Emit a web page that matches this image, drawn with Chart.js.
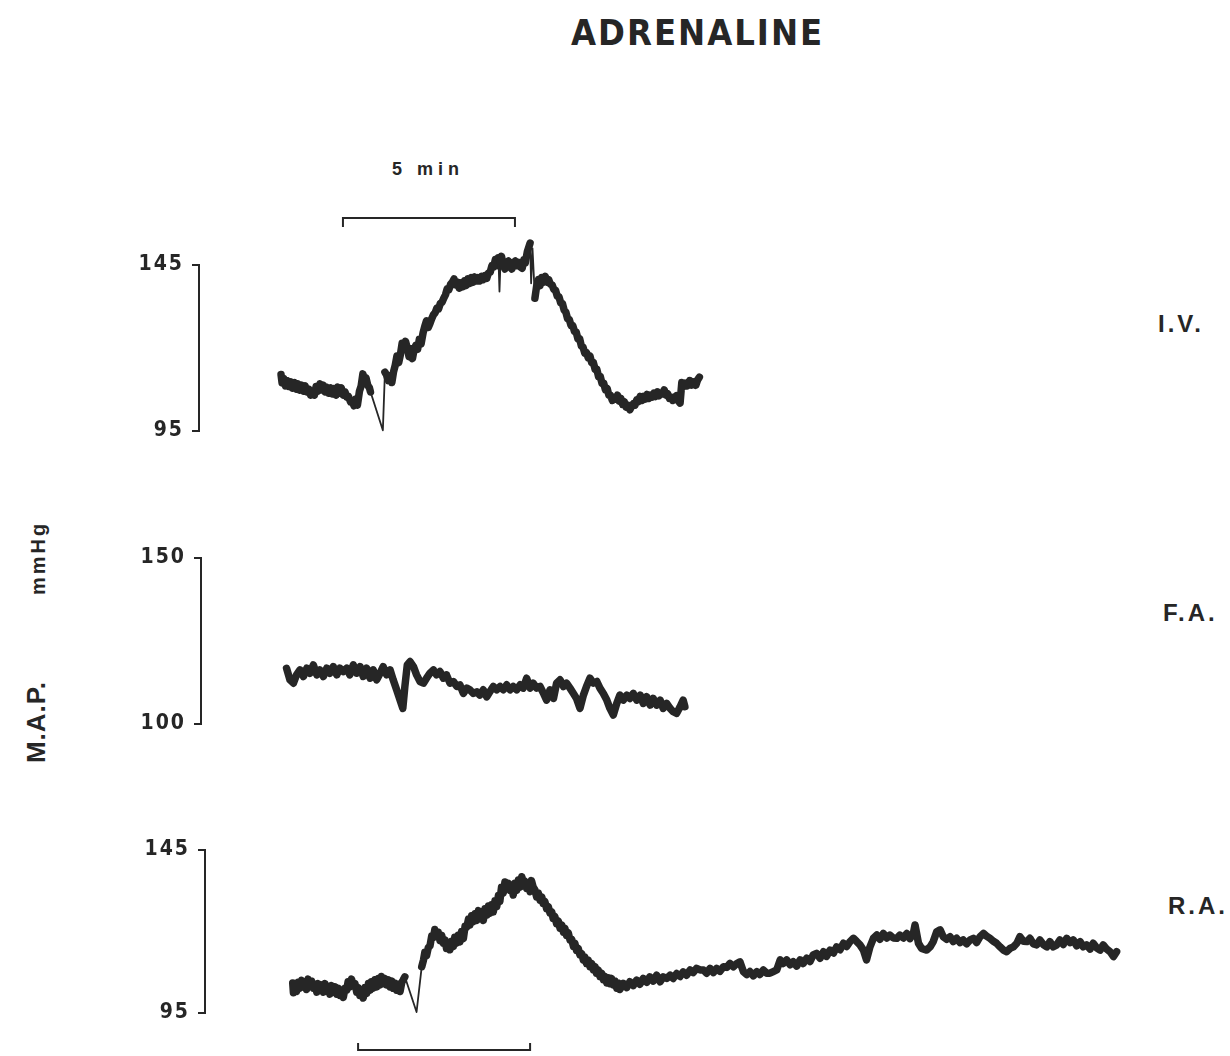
<!DOCTYPE html>
<html>
<head>
<meta charset="utf-8">
<title>Adrenaline - M.A.P.</title>
<script src="https://cdn.jsdelivr.net/npm/chart.js@4"></script>
<style>
  body { margin: 0; background: #fff; width: 1230px; height: 1056px; position: relative; overflow: hidden;
         font-family: 'Liberation Sans', Arial, sans-serif; color: #262626; }
  canvas, .lbl { position: absolute; }
  .lbl { line-height: 1; font-weight: bold; white-space: nowrap; }
  .narrow { font-family: 'Liberation Sans Narrow', 'DejaVu Sans Condensed', sans-serif; }
  #title { left: 571px; top: 15px; font-size: 36px; letter-spacing: 2px; }
  #dose { left: 386px; top: 160px; width: 84px; text-align: center; font-size: 18px; letter-spacing: 5px; }
  .site { font-size: 24px; letter-spacing: 3px; }
  #iv { left: 1158px; top: 312px; }
  #fa { left: 1163px; top: 601px; }
  #ra { left: 1168px; top: 894px; }
  .rot { transform: translate(-50%, -50%) rotate(-90deg); }
  #map { left: 36px; top: 722px; font-size: 26px; letter-spacing: 1px; }
  #unit { left: 38px; top: 558px; font-size: 20px; letter-spacing: 3px; }
</style>
</head>
<body>
<div class="lbl narrow" id="title">ADRENALINE</div>
<div class="lbl" id="dose">5 min</div>
<div class="lbl site" id="iv">I.V.</div>
<div class="lbl site" id="fa">F.A.</div>
<div class="lbl site" id="ra">R.A.</div>
<div class="lbl rot" id="map">M.A.P.</div>
<div class="lbl rot" id="unit">mmHg</div>
<canvas id="ivChart"></canvas>
<canvas id="faChart"></canvas>
<canvas id="raChart"></canvas>
<script>
// pressure traces: [minutes, mmHg]
const ivTrace = [
  [0.03,112.0],[0.06,109.5],[0.11,110.8],[0.16,108.6],[0.21,110.2],[0.26,108.4],[0.31,109.8],[0.36,107.9],
  [0.42,109.6],[0.47,107.6],[0.52,109.2],[0.57,107.3],[0.63,108.8],[0.68,107.0],[0.73,108.6],[0.78,106.8],
  [0.84,107.6],[0.89,105.8],[0.95,106.8],[1.00,105.8],[1.05,108.4],[1.10,107.0],[1.16,109.2],[1.21,107.4],
  [1.26,108.8],[1.31,106.8],[1.36,108.2],[1.42,106.4],[1.47,108.0],[1.52,106.2],[1.57,107.8],[1.63,105.8],
  [1.68,108.2],[1.73,106.4],[1.78,108.0],[1.84,105.8],[1.89,106.8],[1.94,105.2],[1.99,105.4],[2.05,103.8],
  [2.10,104.0],[2.15,102.6],[2.20,104.6],[2.25,102.8],[2.31,107.0],[2.36,108.6],[2.41,112.2],[2.45,110.4],
  [2.50,111.0],[2.55,108.8],[2.60,108.0],[2.63,106.8],[2.99,95.2],[3.05,112.7],
  [3.10,111.8],[3.15,110.2],[3.20,111.6],[3.25,109.6],[3.30,112.8],[3.35,114.8],[3.40,117.6],[3.45,115.6],
  [3.50,118.0],[3.55,121.4],[3.60,119.6],[3.65,122.0],[3.70,120.0],[3.75,117.4],[3.80,119.8],[3.85,116.8],
  [3.90,119.6],[3.95,120.8],[4.00,119.6],[4.05,122.6],[4.10,121.2],[4.16,124.6],[4.21,126.6],[4.26,128.2],
  [4.31,126.2],[4.36,127.4],[4.41,128.8],[4.46,130.0],[4.51,130.6],[4.56,132.0],[4.61,131.8],[4.66,133.4],
  [4.71,133.8],[4.76,135.0],[4.81,136.0],[4.86,137.8],[4.91,137.6],[4.96,139.2],[5.01,139.8],[5.06,140.8],
  [5.11,139.0],[5.16,139.8],[5.21,138.0],[5.26,139.6],[5.31,138.4],[5.36,140.2],[5.41,138.8],[5.46,140.8],
  [5.51,139.4],[5.56,141.2],[5.61,139.8],[5.66,141.4],[5.71,140.2],[5.76,141.2],[5.81,140.2],[5.86,141.6],
  [5.91,140.6],[5.96,141.8],[6.01,141.0],[6.06,142.6],[6.11,142.8],[6.16,144.8],[6.21,144.4],[6.26,146.6],
  [6.31,144.8],[6.35,147.2],[6.38,137.0],[6.41,146.0],[6.44,147.6],[6.49,144.8],[6.54,143.8],[6.59,145.6],
  [6.64,146.2],[6.69,144.4],[6.74,143.8],[6.79,145.6],[6.84,146.2],[6.89,144.8],[6.94,145.8],[6.99,144.4],
  [7.04,144.0],[7.09,146.6],[7.13,145.6],[7.19,149.0],[7.27,151.6],[7.30,139.5],[7.34,150.0],[7.41,135.0],
  [7.46,138.6],[7.51,140.6],[7.56,138.8],[7.61,141.2],[7.66,139.8],[7.71,141.6],[7.76,139.8],[7.81,140.6],
  [7.86,139.2],[7.91,139.0],[7.96,137.6],[8.01,137.4],[8.06,135.6],[8.11,135.4],[8.16,133.6],[8.21,133.4],
  [8.26,131.4],[8.31,130.8],[8.36,128.8],[8.41,128.6],[8.46,126.8],[8.51,126.8],[8.56,125.0],[8.61,124.8],
  [8.66,122.8],[8.71,122.8],[8.76,120.6],[8.81,120.2],[8.86,118.4],[8.91,118.6],[8.96,117.0],[9.01,117.6],
  [9.06,115.6],[9.11,115.6],[9.16,113.6],[9.21,113.6],[9.26,111.4],[9.31,111.4],[9.36,109.4],[9.41,109.4],
  [9.46,107.4],[9.51,107.8],[9.56,105.8],[9.61,105.8],[9.66,104.2],[9.71,105.0],[9.76,104.6],[9.81,105.8],
  [9.86,104.0],[9.91,104.8],[9.96,103.0],[10.01,103.8],[10.06,102.2],[10.11,102.8],[10.17,101.4],[10.22,102.4],
  [10.27,103.2],[10.32,102.8],[10.37,104.4],[10.42,103.8],[10.47,105.4],[10.52,104.2],[10.57,105.4],[10.62,104.6],
  [10.67,106.0],[10.72,104.8],[10.77,105.8],[10.82,105.2],[10.87,106.4],[10.92,105.4],[10.97,106.8],[11.02,105.6],
  [11.07,106.4],[11.12,106.2],[11.17,107.4],[11.22,105.8],[11.27,106.2],[11.32,104.8],[11.37,105.2],[11.42,104.2],
  [11.47,105.0],[11.52,105.6],[11.57,104.2],[11.63,103.4],[11.68,109.6],[11.73,108.4],[11.78,109.4],[11.84,108.6],
  [11.91,110.2],[11.97,108.8],[12.03,109.8],[12.09,108.8],[12.14,110.4],[12.19,111.2]
];

const faTrace = [
  [0.19,116.8],[0.29,113.3],[0.39,112.3],[0.48,114.8],[0.58,116.3],[0.68,114.3],[0.78,116.8],[0.87,115.3],
  [0.97,117.8],[1.07,114.8],[1.16,116.3],[1.26,114.3],[1.36,116.8],[1.45,115.3],[1.55,117.3],[1.65,114.8],
  [1.74,116.8],[1.84,115.8],[1.94,116.8],[2.03,114.8],[2.13,117.8],[2.23,115.3],[2.33,117.3],[2.42,114.3],
  [2.52,116.8],[2.62,113.8],[2.71,116.3],[2.81,113.3],[2.91,115.3],[3.00,117.3],[3.10,114.8],[3.20,116.3],
  [3.29,113.3],[3.39,110.3],[3.49,107.2],[3.57,104.7],[3.63,111.3],[3.70,117.8],[3.78,118.8],[3.88,117.3],
  [3.97,114.8],[4.07,112.8],[4.17,112.3],[4.26,113.8],[4.36,115.3],[4.46,116.3],[4.55,114.8],[4.65,115.8],
  [4.75,113.8],[4.84,114.8],[4.94,112.3],[5.04,112.8],[5.14,111.3],[5.23,111.8],[5.33,109.2],[5.43,110.8],
  [5.52,110.3],[5.62,109.2],[5.72,109.7],[5.81,108.7],[5.91,110.3],[6.01,108.2],[6.10,109.7],[6.20,111.3],
  [6.30,110.3],[6.40,111.3],[6.49,110.3],[6.59,111.8],[6.69,110.3],[6.78,111.3],[6.88,110.3],[6.98,111.8],
  [7.07,110.8],[7.17,113.8],[7.27,110.8],[7.36,112.3],[7.46,110.8],[7.56,111.3],[7.66,109.2],[7.75,107.2],
  [7.85,110.3],[7.95,107.7],[8.04,112.3],[8.14,113.3],[8.24,111.3],[8.33,112.3],[8.43,110.8],[8.53,109.2],
  [8.62,107.7],[8.72,104.7],[8.82,108.7],[8.91,111.3],[9.01,113.8],[9.11,112.3],[9.21,112.8],[9.30,110.8],
  [9.40,109.2],[9.50,107.2],[9.59,104.7],[9.69,102.7],[9.79,106.2],[9.88,108.7],[9.98,107.2],[10.08,108.7],
  [10.17,107.7],[10.27,109.2],[10.37,107.2],[10.47,108.7],[10.56,106.2],[10.66,108.2],[10.76,105.7],[10.85,107.7],
  [10.95,105.7],[11.05,107.2],[11.14,104.7],[11.24,106.2],[11.34,104.7],[11.43,103.7],[11.53,103.2],[11.63,105.2],
  [11.72,107.2],[11.77,105.2]
];

const raTrace = [
  [0.37,104.2],[0.39,101.2],[0.44,103.6],[0.48,101.6],[0.53,104.4],[0.58,102.6],[0.63,105.0],[0.68,103.0],
  [0.72,104.6],[0.77,102.2],[0.82,105.4],[0.87,103.4],[0.92,104.8],[0.97,102.6],[1.02,103.8],[1.07,101.4],
  [1.11,104.0],[1.16,102.0],[1.21,103.6],[1.26,101.4],[1.31,104.0],[1.36,102.0],[1.40,103.2],[1.45,100.8],
  [1.50,103.4],[1.55,101.4],[1.60,103.0],[1.65,100.8],[1.70,102.6],[1.74,100.4],[1.79,102.0],[1.84,99.8],
  [1.89,102.6],[1.94,102.0],[1.98,104.6],[2.03,103.0],[2.08,105.4],[2.13,103.4],[2.18,104.0],[2.23,101.4],
  [2.27,102.8],[2.32,100.4],[2.37,101.8],[2.42,99.6],[2.47,102.8],[2.52,101.0],[2.57,104.0],[2.62,102.0],
  [2.66,104.6],[2.71,102.6],[2.76,105.2],[2.81,103.0],[2.86,105.6],[2.91,103.6],[2.95,106.2],[3.00,104.0],
  [3.05,105.6],[3.10,103.6],[3.15,105.2],[3.20,103.0],[3.25,104.8],[3.29,102.6],[3.34,104.2],[3.39,102.0],
  [3.44,103.8],[3.49,101.6],[3.54,104.4],[3.58,105.1],[3.63,106.1],[3.97,95.3],
  [4.12,109.2],[4.17,111.2],[4.21,113.6],[4.26,112.6],[4.31,115.0],[4.36,115.6],[4.41,118.6],[4.46,118.2],
  [4.50,120.6],[4.55,118.8],[4.60,119.8],[4.65,117.2],[4.70,118.8],[4.75,116.4],[4.80,117.4],[4.84,114.8],
  [4.89,116.6],[4.94,114.4],[4.99,117.0],[5.04,115.4],[5.08,118.2],[5.13,116.4],[5.18,118.8],[5.23,116.8],
  [5.28,120.0],[5.33,117.8],[5.38,121.6],[5.43,121.4],[5.48,123.8],[5.52,122.0],[5.57,124.8],[5.62,123.0],
  [5.67,125.4],[5.72,123.4],[5.77,126.4],[5.81,124.4],[5.86,125.6],[5.91,123.4],[5.96,127.0],[6.01,125.0],
  [6.06,127.8],[6.10,125.6],[6.15,128.2],[6.20,126.0],[6.25,129.4],[6.30,127.6],[6.35,131.0],[6.39,129.2],
  [6.44,133.6],[6.49,131.8],[6.54,135.2],[6.59,133.2],[6.64,134.8],[6.69,132.6],[6.74,133.6],[6.78,131.2],
  [6.83,134.8],[6.88,132.6],[6.93,135.8],[6.98,133.6],[7.03,136.8],[7.07,134.8],[7.12,135.4],[7.17,133.2],
  [7.22,134.4],[7.27,132.2],[7.31,135.6],[7.36,133.6],[7.41,132.8],[7.46,130.6],[7.51,131.8],[7.56,129.6],
  [7.61,130.6],[7.65,128.6],[7.70,129.2],[7.75,127.0],[7.80,127.6],[7.85,125.6],[7.90,126.0],[7.94,124.0],
  [7.99,124.6],[8.04,122.4],[8.09,123.2],[8.14,121.0],[8.19,122.0],[8.24,119.8],[8.28,121.0],[8.33,118.8],
  [8.38,119.6],[8.43,117.4],[8.48,117.6],[8.53,115.4],[8.57,116.4],[8.62,114.2],[8.67,114.8],[8.72,112.8],
  [8.77,113.2],[8.82,111.2],[8.86,112.2],[8.91,110.2],[8.96,111.2],[9.01,109.2],[9.06,110.2],[9.11,108.2],
  [9.16,109.2],[9.20,107.2],[9.25,108.2],[9.30,106.2],[9.35,107.2],[9.40,105.2],[9.45,106.2],[9.50,104.2],
  [9.55,105.8],[9.59,104.0],[9.64,105.6],[9.69,103.6],[9.74,104.8],[9.79,102.6],[9.84,104.2],[9.88,102.2],
  [9.98,104.1],[10.08,102.8],[10.17,104.6],[10.27,103.4],[10.37,105.1],[10.46,103.8],[10.56,105.6],[10.66,104.4],
  [10.75,106.1],[10.85,104.8],[10.95,106.6],[11.05,104.6],[11.14,106.1],[11.24,105.6],[11.34,106.6],[11.43,105.6],
  [11.53,107.1],[11.63,106.2],[11.72,107.6],[11.82,106.6],[11.92,108.2],[12.01,107.4],[12.11,108.7],[12.21,108.2],
  [12.31,108.2],[12.40,107.2],[12.50,108.7],[12.60,107.4],[12.69,108.7],[12.79,107.8],[12.89,109.2],[12.99,109.0],
  [13.08,110.2],[13.18,109.2],[13.28,110.2],[13.37,110.7],[13.47,107.7],[13.57,106.8],[13.66,107.7],[13.76,106.4],
  [13.86,107.7],[13.95,106.8],[14.05,108.2],[14.15,107.2],[14.24,107.2],[14.34,107.7],[14.44,108.2],[14.54,111.3],
  [14.63,110.2],[14.73,111.3],[14.83,109.8],[14.92,110.7],[15.02,109.4],[15.12,111.3],[15.21,110.2],[15.31,111.8],
  [15.41,110.8],[15.50,112.8],[15.60,113.3],[15.70,111.8],[15.80,113.8],[15.89,112.4],[15.99,114.3],[16.09,113.4],
  [16.18,115.3],[16.28,114.4],[16.38,116.4],[16.47,115.4],[16.57,116.9],[16.67,117.9],[16.76,117.0],[16.86,115.9],
  [16.96,114.3],[17.05,111.3],[17.15,115.3],[17.25,117.9],[17.35,118.9],[17.44,117.6],[17.54,119.4],[17.64,118.0],
  [17.73,118.9],[17.83,118.0],[17.93,117.9],[18.02,118.9],[18.12,118.0],[18.22,119.4],[18.31,117.8],[18.41,119.4],
  [18.46,122.0],[18.56,116.4],[18.65,114.8],[18.80,114.3],[18.90,115.3],[18.99,116.9],[19.09,119.9],[19.19,120.5],
  [19.28,118.4],[19.38,117.6],[19.48,118.4],[19.57,116.9],[19.67,117.9],[19.77,116.6],[19.86,117.4],[19.96,116.2],
  [20.06,117.4],[20.16,117.9],[20.25,116.6],[20.35,118.4],[20.45,119.4],[20.54,118.6],[20.64,117.9],[20.74,117.0],
  [20.83,116.4],[20.93,115.3],[21.03,114.3],[21.12,113.8],[21.22,114.8],[21.32,115.3],[21.42,116.4],[21.51,118.4],
  [21.61,117.0],[21.71,116.9],[21.80,117.9],[21.90,116.2],[22.00,115.9],[22.09,117.4],[22.19,116.0],[22.29,115.3],
  [22.38,116.9],[22.48,115.3],[22.58,115.9],[22.67,117.4],[22.77,116.0],[22.87,117.9],[22.97,116.6],[23.06,117.4],
  [23.16,115.6],[23.26,116.9],[23.35,115.3],[23.45,115.9],[23.55,114.6],[23.64,116.4],[23.74,115.0],[23.84,114.3],
  [23.93,115.9],[24.03,114.6],[24.13,113.8],[24.23,112.3],[24.32,113.8]
];

// calibration marks on each pressure axis (mmHg)
const ivRange = [95, 145];
const faRange = [100, 150];
const raRange = [95, 145];

// adrenaline dose bars (minutes)
const doseLength = 5;
const ivDoseStart = 1.83;
const raDoseStart = 2.27;

const INK = '#262626';
const NARROW = "'Liberation Sans Narrow', 'DejaVu Sans Condensed', sans-serif";
const PX_PER_MIN = 34.4;   // chart speed
const ORIGIN_X = 280;      // page x of t = 0
const YW = 90, AREA_W = 940, PAD_T = 70, PAD_B = 55;
const PEN = 7.5, PEN_FAST = 1.8;

// letter spacing for the canvas tick labels
const tracking = {
  id: 'tracking',
  beforeDraw(chart, args, opts) { chart.ctx.letterSpacing = opts.spacing; },
  afterDraw(chart) { chart.ctx.letterSpacing = '0px'; }
};

// bracket showing the 5 min adrenaline infusion
const doseBar = {
  id: 'doseBar',
  afterDatasetsDraw(chart, args, opts) {
    const {ctx, chartArea, scales: {x}} = chart;
    const x0 = x.getPixelForValue(opts.start);
    const x1 = x.getPixelForValue(opts.start + opts.length);
    const top = opts.side === 'top';
    const base = top ? chartArea.top - opts.gap : chartArea.bottom + opts.gap;
    const tip = top ? base + opts.hook : base - opts.hook;
    ctx.save();
    ctx.strokeStyle = INK;
    ctx.lineWidth = 2;
    ctx.beginPath();
    ctx.moveTo(x0, tip);
    ctx.lineTo(x0, base);
    ctx.lineTo(x1, base);
    ctx.lineTo(x1, tip);
    ctx.stroke();
    ctx.restore();
  }
};

// fast pen swings are drawn thin
const steep = c => {
  const dy = Math.abs(c.p1.y - c.p0.y), dx = Math.abs(c.p1.x - c.p0.x);
  return dy > 25 && dy > 2 * dx;
};

function makePanel(id, trace, range, box, bar) {
  const canvas = document.getElementById(id);
  canvas.width = YW + AREA_W;
  canvas.height = box.bottom - box.top + PAD_T + PAD_B;
  canvas.style.left = (box.axis - YW) + 'px';
  canvas.style.top = (box.top - PAD_T) + 'px';
  const xMin = (box.axis - ORIGIN_X) / PX_PER_MIN;

  new Chart(canvas, {
    type: 'line',
    data: {
      datasets: [{
        data: trace.map(([t, p]) => ({x: t, y: p})),
        borderColor: INK,
        borderWidth: PEN,
        borderJoinStyle: 'round',
        borderCapStyle: 'round',
        pointRadius: 0,
        tension: 0,
        clip: false,
        segment: { borderWidth: c => steep(c) ? PEN_FAST : PEN }
      }]
    },
    options: {
      responsive: false,
      animation: false,
      layout: { padding: { top: PAD_T, bottom: PAD_B, left: 0, right: 0 } },
      scales: {
        x: { type: 'linear', display: false, min: xMin, max: xMin + AREA_W / PX_PER_MIN },
        y: {
          min: range[0],
          max: range[1],
          afterFit: s => { s.width = YW; },
          afterBuildTicks: s => { s.ticks = range.map(v => ({value: v})); },
          ticks: { color: INK, padding: 8, font: { family: NARROW, weight: 'bold', size: 21 } },
          grid: { drawOnChartArea: false, drawTicks: true, tickLength: 7, color: INK, lineWidth: 2 },
          border: { display: true, color: INK, width: 2 }
        }
      },
      plugins: {
        legend: { display: false },
        tooltip: { enabled: false },
        tracking: { spacing: '2px' },
        doseBar: bar || false
      }
    },
    plugins: [tracking, doseBar]
  });
}

makePanel('ivChart', ivTrace, ivRange, {axis: 199, top: 265, bottom: 431},
  {start: ivDoseStart, length: doseLength, side: 'top', gap: 47, hook: 9});
makePanel('faChart', faTrace, faRange, {axis: 201, top: 558, bottom: 724}, null);
makePanel('raChart', raTrace, raRange, {axis: 205, top: 850, bottom: 1013},
  {start: raDoseStart, length: doseLength, side: 'bottom', gap: 37, hook: 7});
</script>
</body>
</html>
